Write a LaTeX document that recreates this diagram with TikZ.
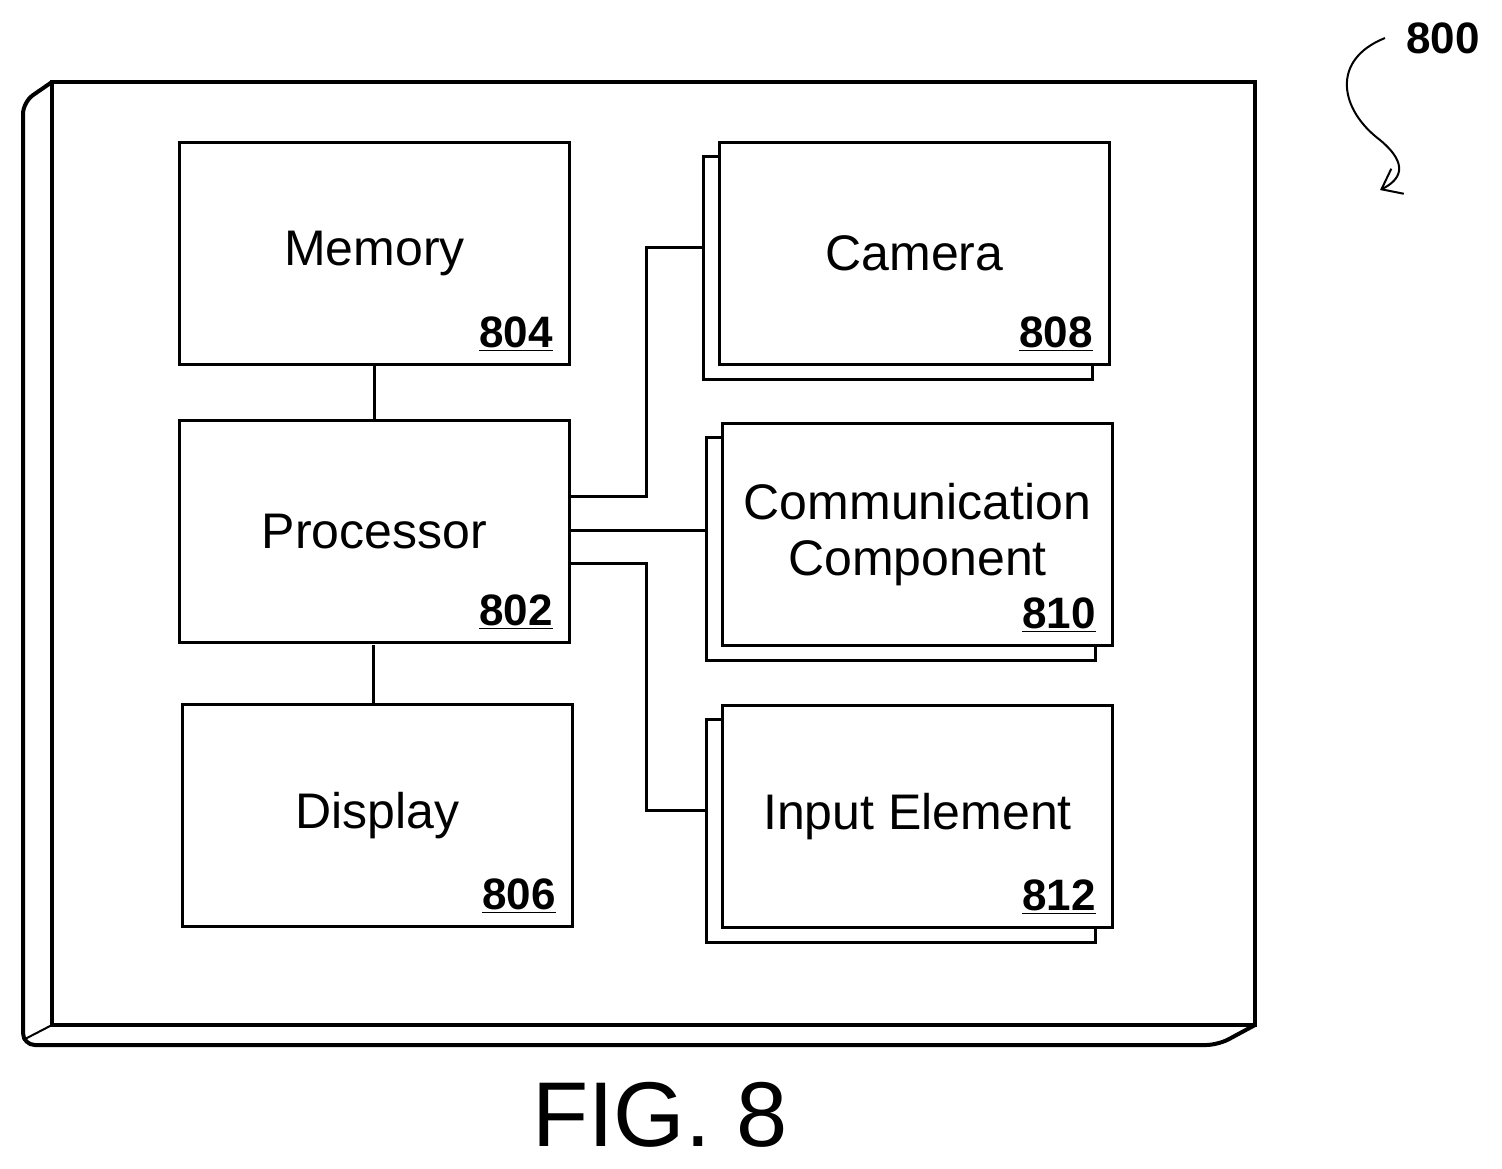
\documentclass[tikz,border=0pt]{standalone}
\usepackage{fontspec}
\setmainfont{Liberation Sans}
\usetikzlibrary{arrows.meta}
\begin{document}
\begin{tikzpicture}[x=0.5pt,y=-0.5pt,line width=1.5pt,
    blk/.style={draw,fill=white,minimum width=195pt,minimum height=111pt,anchor=north west,
      font=\fontsize{25}{28}\selectfont,align=center,inner sep=0pt},
    num/.style={font=\fontsize{22}{24}\selectfont\bfseries,anchor=south east}]
  \useasboundingbox (0,0) rectangle (1502,1168);
  % device frame
  \draw[line width=2pt,rounded corners=6pt] (52,82) -- (23,102) -- (23,1045) -- (1218,1045) -- (1255,1025);
  \draw[line width=1pt] (23,1040) -- (52,1025);
  \draw[line width=2pt] (52,82) rectangle (1255,1025);
  % components
  \node[blk] (mem) at (178,141) {Memory};
  \node[blk] (proc) at (178,419) {Processor};
  \node[blk] (disp) at (181,703) {Display};
  \foreach \n/\x/\y/\t in {cam/718/141/Camera,comm/721/422/{Communication\\Component},inp/721/704/Input Element}{
    \draw (\x-15,\y+15) rectangle (\x+374,\y+238);
    \node[blk] (\n) at (\x,\y) {\t};
  }
  \foreach \n/\v in {mem/804,proc/802,disp/806,cam/808,comm/810,inp/812}
    \node[num] at ([shift={(-5pt,3pt)}]\n.south east) {\underline{\v}};
  % connectors
  \draw (mem.south) -- (proc.north);
  \coordinate (d1) at (373,645);
  \draw (d1) -- (d1 |- disp.north);
  \coordinate (c1) at (703,247);
  \draw (proc.east |- 0,496) -- (646,496) -- (646,247) -- (c1);
  \draw (proc.east |- 0,530) -- (706,530);
  \coordinate (c3) at (706,810);
  \draw (proc.east |- 0,563) -- (646,563) -- (646,810) -- (c3);
  % reference label
  \node[font=\fontsize{22}{24}\selectfont\bfseries] (lbl) at (1443,38) {800};
  \draw[line width=1pt,-{Straight Barb[length=9pt,width=14pt]}] (1385,38) .. controls (1330,60) and (1340,110) .. (1380,140)
    .. controls (1410,165) and (1400,180) .. (1380,190);
  \node[font=\fontsize{46}{52}\selectfont] (fig) at (660,1115) {FIG. 8};
\end{tikzpicture}
\end{document}
